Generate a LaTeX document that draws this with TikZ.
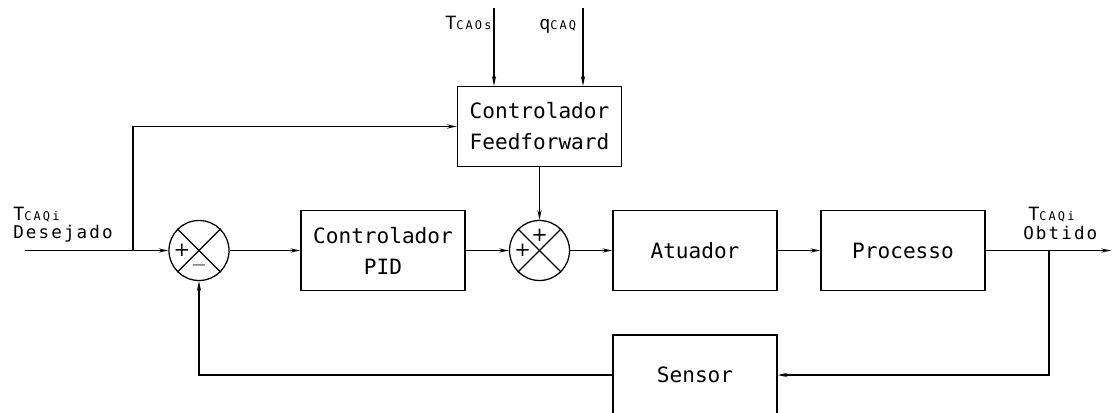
\documentclass[tikz,border=0pt]{standalone}
\usepackage{fontspec}
\setmainfont{DejaVu Sans}
\newfontfamily\blkfont{DejaVu Sans Mono}
\newfontfamily\rotfont[LetterSpace=12]{DejaVu Sans Mono}
\newfontfamily\subfont[LetterSpace=18]{DejaVu Sans Mono}
\usetikzlibrary{arrows.meta,positioning}
\tikzset{
  blk/.style={draw, line width=0.9pt, align=center, inner sep=0pt,
        font=\blkfont\fontsize{15}{22}\selectfont, minimum width=4.1cm, minimum height=2cm},
  somador/.style={draw, circle, line width=0.9pt, minimum size=1.5cm, inner sep=0pt},
  sgn/.style={font=\fontsize{14}{14}\selectfont, inner sep=0pt},
  rot/.style={font=\rotfont\fontsize{12.5}{12}\selectfont, inner sep=0pt, anchor=base west},
  sinal/.style={-{Stealth[length=7pt,width=3pt]}, line width=0.9pt},
  lig/.style={line width=0.9pt},
}
\newcommand{\Tsub}[1]{{\fontsize{13}{12}\selectfont T}{\subfont\fontsize{8.5}{8}\selectfont #1}}
\newcommand{\qsub}[1]{{\fontsize{13}{12}\selectfont q}{\subfont\fontsize{8.5}{8}\selectfont #1}}

\begin{document}
\begin{tikzpicture}[x=0.025cm, y=-0.025cm]
  \useasboundingbox (0,0) rectangle (1112,413);
  % blocks
  \node[blk] (ff)   at (539.5,126.5) {Controlador\\Feedforward};
  \node[blk] (pid)  at (383,250.5)   {Controlador\\PID};
  \node[blk] (atu)  at (695,250.5)   {Atuador};
  \node[blk] (proc) at (903,250.5)   {Processo};
  \node[blk] (sen)  at (695,375)     {Sensor};
  % summing junctions
  \node[somador] (s1) at (199,250.5) {};
  \node[somador] (s2) at (539.5,250.5) {};
  \foreach \s in {s1,s2}{
    \draw[lig] (\s.45) -- (\s.225);
    \draw[lig] (\s.135) -- (\s.315);
  }
  \node[sgn] (s1a) at ([xshift=-0.43cm]s1.center) {+};
  \node[sgn] (s1b) at ([yshift=-0.37cm]s1.center) {$-$};
  \node[sgn] (s2a) at ([yshift=0.38cm]s2.center) {+};
  \node[sgn] (s2b) at ([xshift=-0.42cm]s2.center) {+};
  % free ends
  \coordinate (entrada) at (25,250.5);
  \coordinate (ramo)    at (133,250.5);
  \coordinate (saida)   at (1111,250.5);
  \coordinate (fb)      at (1049,250.5);
  \coordinate (tin)     at (494,8);
  \coordinate (qin)     at (583,8);
  % labels
  \node[rot] (lt1) at (13,221)   {\Tsub{CAQi}};
  \node[rot] (ld)  at (13,238.5) {Desejado};
  \node[rot] (lt2) at (1028,221) {\Tsub{CAQi}};
  \node[rot] (lo)  at (1023,239) {Obtido};
  \node[rot] (lt3) at (445,30)   {\Tsub{CAOs}};
  \node[rot] (lq)  at (539,30)   {\qsub{CAQ}};
  % connections
  \draw[sinal] (entrada) -- (s1);
  \draw[sinal] (ramo) |- (ff.west);
  \draw[sinal] (tin) -- (tin |- ff.north);
  \draw[sinal] (qin) -- (qin |- ff.north);
  \draw[sinal] (ff.south) -- (s2.north);
  \draw[sinal] (s1) -- (pid);
  \draw[sinal] (pid) -- (s2);
  \draw[sinal] (s2) -- (atu);
  \draw[sinal] (atu) -- (proc);
  \draw[sinal] (proc) -- (saida);
  \draw[sinal] (fb) |- (sen.east);
  \draw[sinal] (sen.west) -| (s1.south);
\end{tikzpicture}
\end{document}
